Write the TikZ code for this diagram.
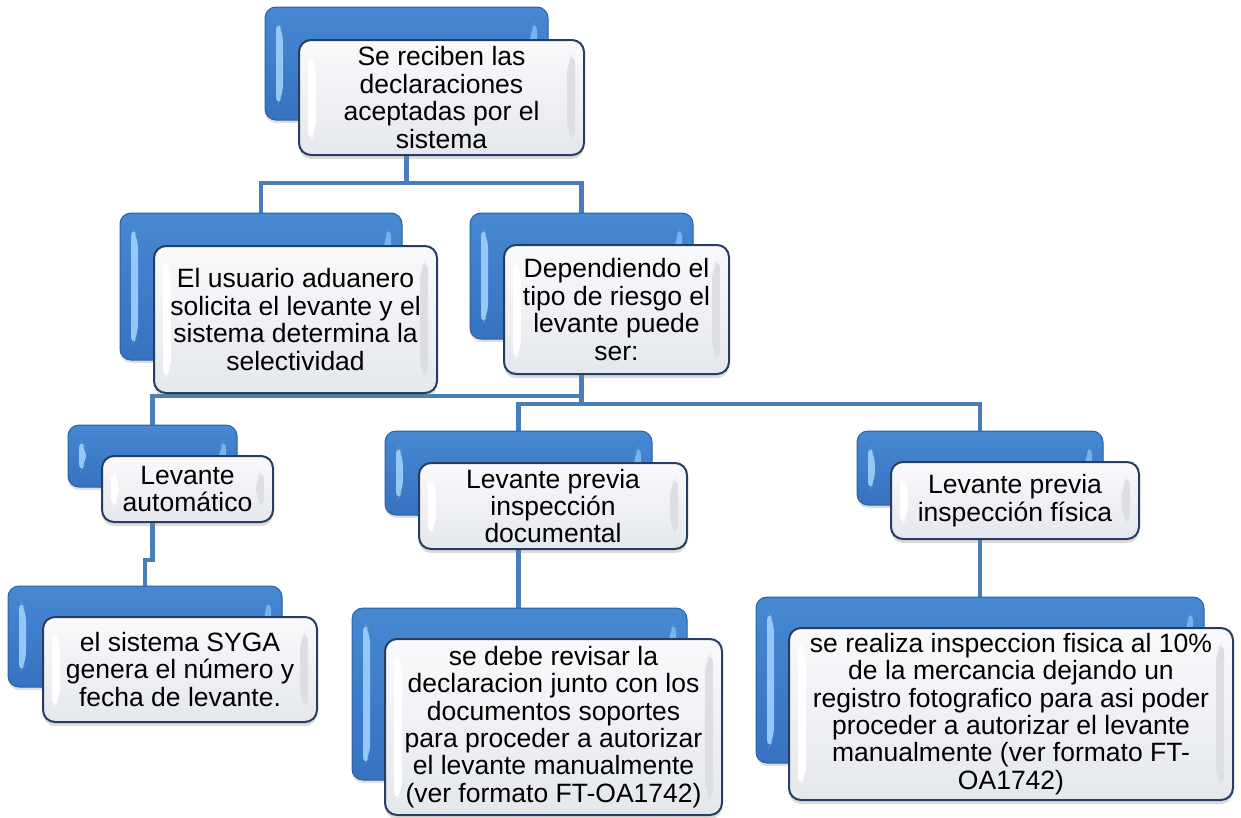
\documentclass[tikz,border=0pt]{standalone}
\usepackage{fontspec}
\setmainfont{Liberation Sans}
\usetikzlibrary{calc,shadows}
\pgfdeclarelayer{background}
\pgfsetlayers{background,main}
\definecolor{bluetop}{RGB}{70,136,210}
\definecolor{bluebot}{RGB}{54,114,192}
\definecolor{blueedge}{RGB}{44,96,165}
\definecolor{bevelL}{RGB}{150,200,246}
\definecolor{bevelR}{RGB}{118,180,238}
\definecolor{frontedge}{RGB}{38,62,98}
\definecolor{fronttop}{RGB}{250,250,252}
\definecolor{frontbot}{RGB}{228,231,236}
\definecolor{frontbevel}{RGB}{220,222,227}
\definecolor{connc}{RGB}{74,126,187}
\tikzset{
  backbox/.style={rounded corners=11pt, draw=blueedge, line width=1pt,
    top color=bluetop, bottom color=bluebot, inner sep=0pt,
    drop shadow={shadow xshift=0pt, shadow yshift=-3pt, opacity=0.25},
    path picture={
      \fill[bevelL] ($(path picture bounding box.north west)+(11,13)$) -- ++(7,11)
        -- ($(path picture bounding box.south west)+(18,-24)$) -- ++(-7,11) -- cycle;
      \fill[bevelR] ($(path picture bounding box.north east)+(-11,13)$) -- ++(-7,11)
        -- ($(path picture bounding box.south east)+(-18,-24)$) -- ++(7,11) -- cycle;
    }},
  frontbox/.style={rounded corners=12pt, draw=frontedge, line width=2pt,
    top color=fronttop, bottom color=frontbot, inner sep=0pt, align=center,
    font=\fontsize{26.5}{27.4}\selectfont,
    drop shadow={shadow xshift=0pt, shadow yshift=-4pt, opacity=0.28},
    path picture={
      \fill[frontbevel] ($(path picture bounding box.north east)+(-9,12)$) -- ++(-8,10)
        -- ($(path picture bounding box.south east)+(-17,-22)$) -- ++(8,10) -- cycle;
      \fill[white] ($(path picture bounding box.north west)+(9,12)$) -- ++(8,10)
        -- ($(path picture bounding box.south west)+(17,-22)$) -- ++(-8,10) -- cycle;
    }},
  conn/.style={draw=connc, line width=4.5pt}
}
\begin{document}
\begin{tikzpicture}[x=1pt,y=-1pt]
\useasboundingbox (0,0) rectangle (1241,817);
% level 1
\node[backbox, minimum width=283, minimum height=113] (b0) at (406.5,63.5) {};
\node[frontbox, minimum width=285, minimum height=115] (f0) at (441.5,97.5)
  {Se reciben las\\declaraciones\\aceptadas por el\\sistema};
% level 2
\node[backbox, minimum width=282, minimum height=147] (b1) at (261,286.5) {};
\node[frontbox, minimum width=283, minimum height=147] (f1) at (295.5,319.5)
  {El usuario aduanero\\solicita el levante y el\\sistema determina la\\selectividad};
\node[backbox, minimum width=223, minimum height=126] (b2) at (581.5,276) {};
\node[frontbox, minimum width=225, minimum height=129] (f2) at (616.5,309.5)
  {Dependiendo el\\tipo de riesgo el\\levante puede\\ser:};
% level 3
\node[backbox, minimum width=169, minimum height=62] (b3) at (152.5,456) {};
\node[frontbox, minimum width=171, minimum height=66] (f3) at (187.5,489)
  {Levante\\automático};
\node[backbox, minimum width=267, minimum height=84] (b4) at (518.5,473) {};
\node[frontbox, minimum width=268, minimum height=86] (f4) at (553,506)
  {Levante previa\\inspección\\documental};
\node[backbox, minimum width=246, minimum height=74] (b5) at (980,468) {};
\node[frontbox, minimum width=248, minimum height=77] (f5) at (1015,500.5)
  {Levante previa\\inspección física};
% level 4
\node[backbox, minimum width=274, minimum height=101] (b6) at (145,636.5) {};
\node[frontbox, minimum width=274, minimum height=105] (f6) at (180,669.5)
  {el sistema SYGA\\genera el número y\\fecha de levante.};
\node[backbox, minimum width=335, minimum height=172] (b7) at (519.5,694) {};
\node[frontbox, minimum width=337, minimum height=176] (f7) at (553.5,727)
  {se debe revisar la\\declaracion junto con los\\documentos soportes\\para proceder a autorizar\\el levante manualmente\\(ver formato FT-OA1742)};
\node[backbox, minimum width=448, minimum height=166] (b8) at (980,680) {};
\node[frontbox, minimum width=444, minimum height=172] (f8) at (1011,714)
  {se realiza inspeccion fisica al 10\%\\de la mercancia dejando un\\registro fotografico para asi poder\\proceder a autorizar el levante\\manualmente (ver formato FT-\\OA1742)};
% connectors
\coordinate (j0) at (406.5,183);
\coordinate (j1) at (581.5,396);
\coordinate (j2) at (581.5,404);
\coordinate (j3) at (152.5,560);
\begin{pgfonlayer}{background}
\draw[conn] (b0.south) -- (j0) -| (b1.north);
\draw[conn] (j0) -| (b2.north);
\draw[conn] (b2.south) -- (j1) -| (b3.north);
\draw[conn] (j1) -- (j2) -| (b4.north);
\draw[conn] (j2) -| (b5.north);
\draw[conn] (b3.south) -- (j3) -| (b6.north);
\draw[conn] (b4.south) -- (b4.south |- b7.north);
\draw[conn] (b5.south) -- (b8.north);
\end{pgfonlayer}
\end{tikzpicture}
\end{document}
